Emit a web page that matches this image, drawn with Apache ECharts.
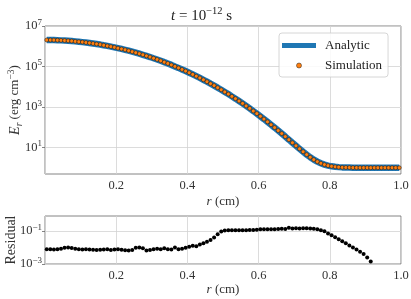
<!DOCTYPE html>
<html><head><meta charset="utf-8">
<script src="https://cdn.jsdelivr.net/npm/echarts@6/dist/echarts.min.js"></script>
<style>html,body{margin:0;padding:0;background:#fff}#c{width:411px;height:299px}</style>
</head><body><div id="c"></div>
<script>
const r = [0.005,0.015,0.025,0.035,0.045,0.055,0.065,0.075,0.085,0.095,
0.105,0.115,0.125,0.135,0.145,0.155,0.165,0.175,0.185,0.195,
0.205,0.215,0.225,0.235,0.245,0.255,0.265,0.275,0.285,0.295,
0.305,0.315,0.325,0.335,0.345,0.355,0.365,0.375,0.385,0.395,
0.405,0.415,0.425,0.435,0.445,0.455,0.465,0.475,0.485,0.495,
0.505,0.515,0.525,0.535,0.545,0.555,0.565,0.575,0.585,0.595,
0.605,0.615,0.625,0.635,0.645,0.655,0.665,0.675,0.685,0.695,
0.705,0.715,0.725,0.735,0.745,0.755,0.765,0.775,0.785,0.795,
0.805,0.815,0.825,0.835,0.845,0.855,0.865,0.875,0.885,0.895,
0.905,0.915,0.925,0.935,0.945,0.955,0.965,0.975,0.985,0.995];
const energy = [2.04e6,2.03e6,2.01e6,1.99e6,1.95e6,1.91e6,1.86e6,1.81e6,1.74e6,1.67e6,
1.60e6,1.53e6,1.45e6,1.37e6,1.29e6,1.21e6,1.12e6,1.04e6,9.59e5,8.83e5,
8.07e5,7.35e5,6.67e5,6.01e5,5.40e5,4.82e5,4.29e5,3.79e5,3.34e5,2.93e5,
2.55e5,2.22e5,1.91e5,1.64e5,1.41e5,1.20e5,1.01e5,8.53e4,7.14e4,5.94e4,
4.93e4,4.06e4,3.33e4,2.72e4,2.20e4,1.77e4,1.42e4,1.14e4,8.99e3,7.08e3,
5.55e3,4.33e3,3.34e3,2.58e3,1.97e3,1.50e3,1.13e3,850,633,470,
346,253,184,133,95.8,68.5,48.8,34.5,24.3,17.1,
12.1,8.55,6.12,4.44,3.29,2.51,1.99,1.65,1.42,1.27,
1.17,1.11,1.07,1.04,1.03,1.02,1.01,1.01,1.00,1.00,
1.00,1.00,1.00,1.00,1.00,1.00,1.00,1.00,1.00,1.00];
const residual = [0.00794,0.00794,0.00759,0.00794,0.00832,0.00955,0.0100,0.00933,0.00832,0.00794,
0.00759,0.00794,0.00759,0.00724,0.00708,0.00724,0.00759,0.00794,0.00708,0.00759,
0.00794,0.00724,0.00692,0.00661,0.00708,0.00955,0.0100,0.00891,0.00661,0.00708,
0.00794,0.00832,0.00794,0.00891,0.00794,0.00759,0.0100,0.00794,0.00832,0.00955,
0.0112,0.0126,0.0120,0.0151,0.0178,0.0224,0.0282,0.0398,0.0631,0.0933,
0.107,0.110,0.110,0.112,0.110,0.112,0.112,0.115,0.117,0.120,
0.126,0.129,0.126,0.126,0.129,0.132,0.138,0.132,0.158,0.141,
0.145,0.141,0.145,0.148,0.141,0.135,0.126,0.112,0.0955,0.0708,
0.0562,0.0417,0.0316,0.0240,0.0178,0.0132,0.0100,0.00759,0.00562,0.00398,
0.00251,0.00141,0.00063,0.0003,0.00015,0.00008,0.00004,0.00002,0.00001,0.000005];
const topExponents = [1,3,5,7];
const bottomExponents = [-3,-1];
const xTickLabels = ['0.2','0.4','0.6','0.8','1.0'];

const FONT = 'Liberation Serif';
const EDGE = '#666';
const GRIDC = '#d3d3d3';
const lg = v => Math.log10(v);
const energyPts = r.map((x,i)=>[x, lg(energy[i])]);
const residualPts = r.map((x,i)=>[x, lg(residual[i])]);
const supFmt = v => '{b|10}{s|' + String(Math.round(v)).replace('-', '\u2212') + '}';
const labelRich = {
  b:{fontFamily:FONT,fontSize:12.5,color:'#333',lineHeight:16,verticalAlign:'middle'},
  s:{fontFamily:FONT,fontSize:9,color:'#333',lineHeight:9,verticalAlign:'top'}
};
const xAxisCommon = {
  type:'value', min:0, max:1, interval:0.2,
  axisLine:{show:false}, axisTick:{show:false},
  axisLabel:{showMinLabel:false,fontFamily:FONT,fontSize:12.5,color:'#333',margin:5,
    formatter:v=>{const s=v.toFixed(1);return xTickLabels.indexOf(s)>=0?s:'';}},
  splitLine:{show:true,lineStyle:{color:GRIDC,width:0.8}},
  name:'{i|r} (cm)', nameLocation:'middle',
  nameTextStyle:{fontFamily:FONT,fontSize:13,color:'#333',rich:{i:{fontFamily:FONT,fontStyle:'italic',fontSize:13,color:'#333'}}}
};
const option = {
  animation:false,
  title:{text:'{i|t} = 10{s|\u221212} s', left:166, top:1,
    textStyle:{fontFamily:FONT,fontSize:15,fontWeight:'normal',color:'#222',
      rich:{i:{fontFamily:FONT,fontStyle:'italic',fontSize:15,color:'#222',lineHeight:20,verticalAlign:'middle'},
            s:{fontFamily:FONT,fontSize:10.5,color:'#222',lineHeight:10,verticalAlign:'top'}}}},
  grid:[
    {left:45,right:10,top:26,height:148,show:true,borderColor:EDGE,borderWidth:0.8,backgroundColor:'transparent',outerBoundsMode:'none',containLabel:false},
    {left:45,right:10,top:216,height:48,show:true,borderColor:EDGE,borderWidth:0.8,backgroundColor:'transparent',outerBoundsMode:'none',containLabel:false}
  ],
  legend:{left:279,top:33,orient:'vertical',itemWidth:34,itemHeight:5,itemGap:7,
    padding:[6,6,5,3],borderColor:'#ccc',borderWidth:0.8,borderRadius:3,backgroundColor:'rgba(255,255,255,0.85)',
    textStyle:{fontFamily:FONT,fontSize:13,color:'#222',padding:[0,0,0,4]},
    data:[{name:'Analytic',icon:'rect',itemStyle:{color:'#1f77b4'}},
          {name:'Simulation',icon:'circle',itemStyle:{color:'#ff7f0e',borderColor:'#222',borderWidth:0.5}}]},
  xAxis:[
    Object.assign({}, xAxisCommon, {gridIndex:0, nameGap:21}),
    Object.assign({}, xAxisCommon, {gridIndex:1, nameGap:19})
  ],
  yAxis:[
    {type:'value',gridIndex:0,min:-0.31,max:7,
      axisLine:{show:false},
      axisTick:{show:true,length:3,customValues:topExponents,lineStyle:{color:EDGE,width:0.8}},
      axisLabel:{customValues:topExponents,formatter:supFmt,rich:labelRich,margin:3},
      splitLine:{show:true,lineStyle:{color:GRIDC,width:0.8}},
      name:'{i|E}{sub|r} (erg cm{sup|\u22123})',nameLocation:'middle',nameRotate:90,nameGap:21,
      nameMoveOverlap:false,
      nameTextStyle:{fontFamily:FONT,fontSize:13,color:'#333',
        rich:{i:{fontFamily:FONT,fontStyle:'italic',fontSize:14,color:'#333',lineHeight:18,verticalAlign:'middle'},
              sub:{fontFamily:FONT,fontStyle:'italic',fontSize:9.5,color:'#333',lineHeight:9,verticalAlign:'bottom'},
              sup:{fontFamily:FONT,fontSize:9.5,color:'#333',lineHeight:9,verticalAlign:'top'}}}},
    {type:'value',gridIndex:1,min:-3,max:-0.09,
      axisLine:{show:false},
      axisTick:{show:true,length:3,customValues:bottomExponents,lineStyle:{color:EDGE,width:0.8}},
      axisLabel:{customValues:bottomExponents,formatter:supFmt,rich:labelRich,margin:3},
      splitLine:{show:true,lineStyle:{color:GRIDC,width:0.8}},
      name:'Residual',nameLocation:'middle',nameRotate:90,nameGap:27,
      nameMoveOverlap:false,
      nameTextStyle:{fontFamily:FONT,fontSize:14,color:'#333'}}
  ],
  series:[
    {name:'Analytic',type:'line',xAxisIndex:0,yAxisIndex:0,data:energyPts,showSymbol:false,symbol:'none',
      lineStyle:{color:'#1f77b4',width:6.5},itemStyle:{color:'#1f77b4'},z:2,clip:true},
    {name:'Simulation',type:'scatter',xAxisIndex:0,yAxisIndex:0,data:energyPts,symbol:'circle',symbolSize:4,
      itemStyle:{color:'#ff7f0e',borderColor:'#222',borderWidth:0.6,opacity:1},z:3,clip:true},
    {name:'Residual',type:'scatter',xAxisIndex:1,yAxisIndex:1,data:residualPts,symbol:'circle',symbolSize:4,
      itemStyle:{color:'#000',opacity:1},z:3,clip:true}
  ]
};
const chart = echarts.init(document.getElementById('c'),null,{renderer:'canvas'});
chart.setOption(option);
</script></body></html>
